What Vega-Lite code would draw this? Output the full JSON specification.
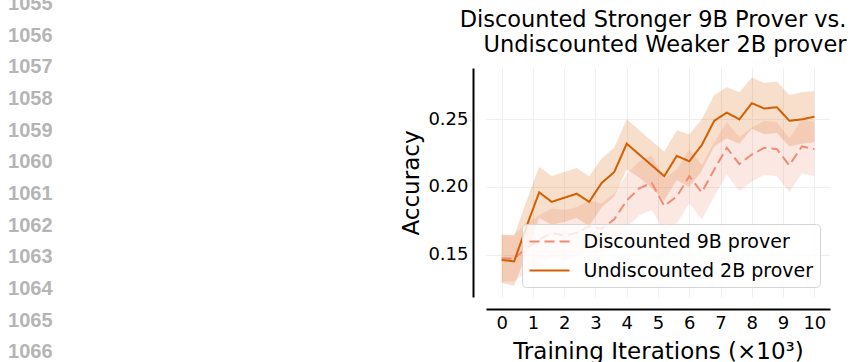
{
  "$schema": "https://vega.github.io/schema/vega-lite/v6.json",
  "autosize": {"type": "none"},
  "padding": {"left": 486, "top": 68, "right": 20, "bottom": 65},
  "width": 344,
  "height": 229,
  "background": "white",
  "config": {
    "view": {"stroke": null},
    "font": "DejaVu Sans",
    "axis": {
      "labelOverlap": false,
      "labelFont": "DejaVu Sans",
      "labelFontSize": 18,
      "labelColor": "black",
      "titleFont": "DejaVu Sans",
      "titleFontSize": 23,
      "titleFontWeight": "normal",
      "titleColor": "black",
      "ticks": false,
      "tickSize": 0,
      "domainColor": "black",
      "domainWidth": 2,
      "grid": true,
      "gridColor": "#eeeeee",
      "gridWidth": 1
    }
  },
  "datasets": {
    "lines": [
      {"n": 1055, "label": "1055"}, {"n": 1056, "label": "1056"}, {"n": 1057, "label": "1057"},
      {"n": 1058, "label": "1058"}, {"n": 1059, "label": "1059"}, {"n": 1060, "label": "1060"},
      {"n": 1061, "label": "1061"}, {"n": 1062, "label": "1062"}, {"n": 1063, "label": "1063"},
      {"n": 1064, "label": "1064"}, {"n": 1065, "label": "1065"}, {"n": 1066, "label": "1066"}
    ],
    "acc": [
      {"iter": 0.0, "series": "Discounted 9B prover", "acc": 0.147, "lo": 0.130, "hi": 0.164},
      {"iter": 0.4, "series": "Discounted 9B prover", "acc": 0.147, "lo": 0.130, "hi": 0.165},
      {"iter": 0.8, "series": "Discounted 9B prover", "acc": 0.155, "lo": 0.137, "hi": 0.173},
      {"iter": 1.2, "series": "Discounted 9B prover", "acc": 0.161, "lo": 0.143, "hi": 0.179},
      {"iter": 1.6, "series": "Discounted 9B prover", "acc": 0.166, "lo": 0.148, "hi": 0.184},
      {"iter": 2.0, "series": "Discounted 9B prover", "acc": 0.164, "lo": 0.146, "hi": 0.183},
      {"iter": 2.4, "series": "Discounted 9B prover", "acc": 0.166, "lo": 0.148, "hi": 0.185},
      {"iter": 2.8, "series": "Discounted 9B prover", "acc": 0.171, "lo": 0.152, "hi": 0.190},
      {"iter": 3.2, "series": "Discounted 9B prover", "acc": 0.169, "lo": 0.150, "hi": 0.188},
      {"iter": 3.6, "series": "Discounted 9B prover", "acc": 0.176, "lo": 0.157, "hi": 0.195},
      {"iter": 4.0, "series": "Discounted 9B prover", "acc": 0.190, "lo": 0.170, "hi": 0.210},
      {"iter": 4.4, "series": "Discounted 9B prover", "acc": 0.199, "lo": 0.179, "hi": 0.219},
      {"iter": 4.8, "series": "Discounted 9B prover", "acc": 0.203, "lo": 0.183, "hi": 0.223},
      {"iter": 5.2, "series": "Discounted 9B prover", "acc": 0.186, "lo": 0.167, "hi": 0.206},
      {"iter": 5.6, "series": "Discounted 9B prover", "acc": 0.193, "lo": 0.173, "hi": 0.213},
      {"iter": 6.0, "series": "Discounted 9B prover", "acc": 0.208, "lo": 0.188, "hi": 0.228},
      {"iter": 6.4, "series": "Discounted 9B prover", "acc": 0.196, "lo": 0.176, "hi": 0.216},
      {"iter": 6.8, "series": "Discounted 9B prover", "acc": 0.213, "lo": 0.193, "hi": 0.233},
      {"iter": 7.2, "series": "Discounted 9B prover", "acc": 0.229, "lo": 0.209, "hi": 0.248},
      {"iter": 7.6, "series": "Discounted 9B prover", "acc": 0.217, "lo": 0.197, "hi": 0.237},
      {"iter": 8.0, "series": "Discounted 9B prover", "acc": 0.224, "lo": 0.204, "hi": 0.244},
      {"iter": 8.4, "series": "Discounted 9B prover", "acc": 0.229, "lo": 0.209, "hi": 0.249},
      {"iter": 8.8, "series": "Discounted 9B prover", "acc": 0.228, "lo": 0.208, "hi": 0.248},
      {"iter": 9.2, "series": "Discounted 9B prover", "acc": 0.216, "lo": 0.196, "hi": 0.236},
      {"iter": 9.6, "series": "Discounted 9B prover", "acc": 0.230, "lo": 0.210, "hi": 0.250},
      {"iter": 10.0, "series": "Discounted 9B prover", "acc": 0.228, "lo": 0.208, "hi": 0.248},
      {"iter": 0.0, "series": "Undiscounted 2B prover", "acc": 0.146, "lo": 0.129, "hi": 0.165},
      {"iter": 0.4, "series": "Undiscounted 2B prover", "acc": 0.145, "lo": 0.127, "hi": 0.164},
      {"iter": 0.8, "series": "Undiscounted 2B prover", "acc": 0.171, "lo": 0.151, "hi": 0.190},
      {"iter": 1.2, "series": "Undiscounted 2B prover", "acc": 0.196, "lo": 0.177, "hi": 0.215},
      {"iter": 1.6, "series": "Undiscounted 2B prover", "acc": 0.189, "lo": 0.172, "hi": 0.208},
      {"iter": 2.0, "series": "Undiscounted 2B prover", "acc": 0.192, "lo": 0.174, "hi": 0.211},
      {"iter": 2.4, "series": "Undiscounted 2B prover", "acc": 0.195, "lo": 0.177, "hi": 0.214},
      {"iter": 2.8, "series": "Undiscounted 2B prover", "acc": 0.189, "lo": 0.171, "hi": 0.208},
      {"iter": 3.2, "series": "Undiscounted 2B prover", "acc": 0.203, "lo": 0.185, "hi": 0.221},
      {"iter": 3.6, "series": "Undiscounted 2B prover", "acc": 0.211, "lo": 0.193, "hi": 0.229},
      {"iter": 4.0, "series": "Undiscounted 2B prover", "acc": 0.232, "lo": 0.213, "hi": 0.250},
      {"iter": 4.4, "series": "Undiscounted 2B prover", "acc": 0.224, "lo": 0.207, "hi": 0.242},
      {"iter": 4.8, "series": "Undiscounted 2B prover", "acc": 0.216, "lo": 0.199, "hi": 0.234},
      {"iter": 5.2, "series": "Undiscounted 2B prover", "acc": 0.208, "lo": 0.190, "hi": 0.226},
      {"iter": 5.6, "series": "Undiscounted 2B prover", "acc": 0.223, "lo": 0.205, "hi": 0.242},
      {"iter": 6.0, "series": "Undiscounted 2B prover", "acc": 0.219, "lo": 0.200, "hi": 0.239},
      {"iter": 6.4, "series": "Undiscounted 2B prover", "acc": 0.231, "lo": 0.212, "hi": 0.250},
      {"iter": 6.8, "series": "Undiscounted 2B prover", "acc": 0.249, "lo": 0.230, "hi": 0.268},
      {"iter": 7.2, "series": "Undiscounted 2B prover", "acc": 0.255, "lo": 0.236, "hi": 0.274},
      {"iter": 7.6, "series": "Undiscounted 2B prover", "acc": 0.250, "lo": 0.232, "hi": 0.270},
      {"iter": 8.0, "series": "Undiscounted 2B prover", "acc": 0.262, "lo": 0.243, "hi": 0.281},
      {"iter": 8.4, "series": "Undiscounted 2B prover", "acc": 0.258, "lo": 0.239, "hi": 0.277},
      {"iter": 8.8, "series": "Undiscounted 2B prover", "acc": 0.259, "lo": 0.240, "hi": 0.278},
      {"iter": 9.2, "series": "Undiscounted 2B prover", "acc": 0.249, "lo": 0.230, "hi": 0.268},
      {"iter": 9.6, "series": "Undiscounted 2B prover", "acc": 0.250, "lo": 0.232, "hi": 0.270},
      {"iter": 10.0, "series": "Undiscounted 2B prover", "acc": 0.252, "lo": 0.233, "hi": 0.271}
    ]
  },
  "resolve": {"scale": {"y": "independent"}, "axis": {"x": "independent"}},
  "layer": [
    {
      "data": {"name": "acc"},
      "encoding": {
        "x": {
          "field": "iter", "type": "quantitative",
          "scale": {"domain": [-0.5, 10.5], "nice": false, "zero": false},
          "axis": {
            "title": "Training Iterations (×10³)",
            "orient": "bottom",
            "values": [0, 1, 2, 3, 4, 5, 6, 7, 8, 9, 10],
            "tickCount": 11,
            "format": "d",
            "offset": 12,
            "labelPadding": 5,
            "labelOverlap": false,
            "titlePadding": 8
          }
        }
      },
      "layer": [
        {
          "mark": {"type": "area", "opacity": 0.2},
          "encoding": {
            "y": {
              "field": "lo", "type": "quantitative",
              "scale": {"domain": [0.1186, 0.288], "nice": false, "zero": false},
              "axis": {
                "title": "Accuracy",
                "orient": "left",
                "values": [0.15, 0.2, 0.25],
                "format": ".2f",
                "offset": 13,
                "labelPadding": 5,
                "titlePadding": 4
              }
            },
            "y2": {"field": "hi"},
            "fill": {"field": "series", "type": "nominal", "scale": {"range": ["#f08c72", "#d55e00"]}, "legend": null}
          }
        },
        {
          "mark": {"type": "line", "strokeWidth": 2},
          "encoding": {
            "y": {"field": "acc", "type": "quantitative"},
            "stroke": {
              "field": "series", "type": "nominal",
              "scale": {"domain": ["Discounted 9B prover", "Undiscounted 2B prover"], "range": ["#f08c72", "#d55e00"]},
              "legend": {
                "title": null,
                "orient": "bottom-right",
                "offset": 10,
                "symbolType": "M-1,0H3",
                "symbolSize": 400,
                "symbolStrokeWidth": 2,
                "labelFontSize": 19,
                "labelFont": "DejaVu Sans",
                "labelColor": "black",
                "labelLimit": 400,
                "labelOffset": 33,
                "rowPadding": 8,
                "padding": 6.5,
                "fillColor": "rgba(255,255,255,0.8)",
                "strokeColor": "#d4d4d4",
                "cornerRadius": 4
              }
            },
            "strokeDash": {
              "field": "series", "type": "nominal",
              "scale": {"domain": ["Discounted 9B prover", "Undiscounted 2B prover"], "range": [[10, 5], [1, 0]]},
              "legend": {"title": null}
            }
          }
        }
      ]
    },
    {
      "data": {"name": "lines"},
      "mark": {"type": "text", "align": "center", "baseline": "middle", "font": "Liberation Sans", "fontSize": 20, "fontWeight": "bold", "color": "#b5b5b5", "clip": false},
      "encoding": {
        "x": {
          "datum": -15.07, "type": "quantitative",
          "axis": {
            "orient": "top",
            "title": ["Discounted Stronger 9B Prover vs.", "Undiscounted Weaker 2B prover"],
            "values": [],
            "labels": false,
            "domain": false,
            "grid": false,
            "ticks": false,
            "offset": 0,
            "titleFontSize": 22.5,
            "titleLineHeight": 25,
            "titleAnchor": "end",
            "titleAlign": "right",
            "titleX": 360,
            "titlePadding": 12
          }
        },
        "y": {"field": "n", "type": "quantitative", "scale": {"domain": [1057.018, 1064.249], "reverse": true, "nice": false, "zero": false}, "axis": null},
        "text": {"field": "label", "type": "nominal"}
      }
    }
  ]
}
